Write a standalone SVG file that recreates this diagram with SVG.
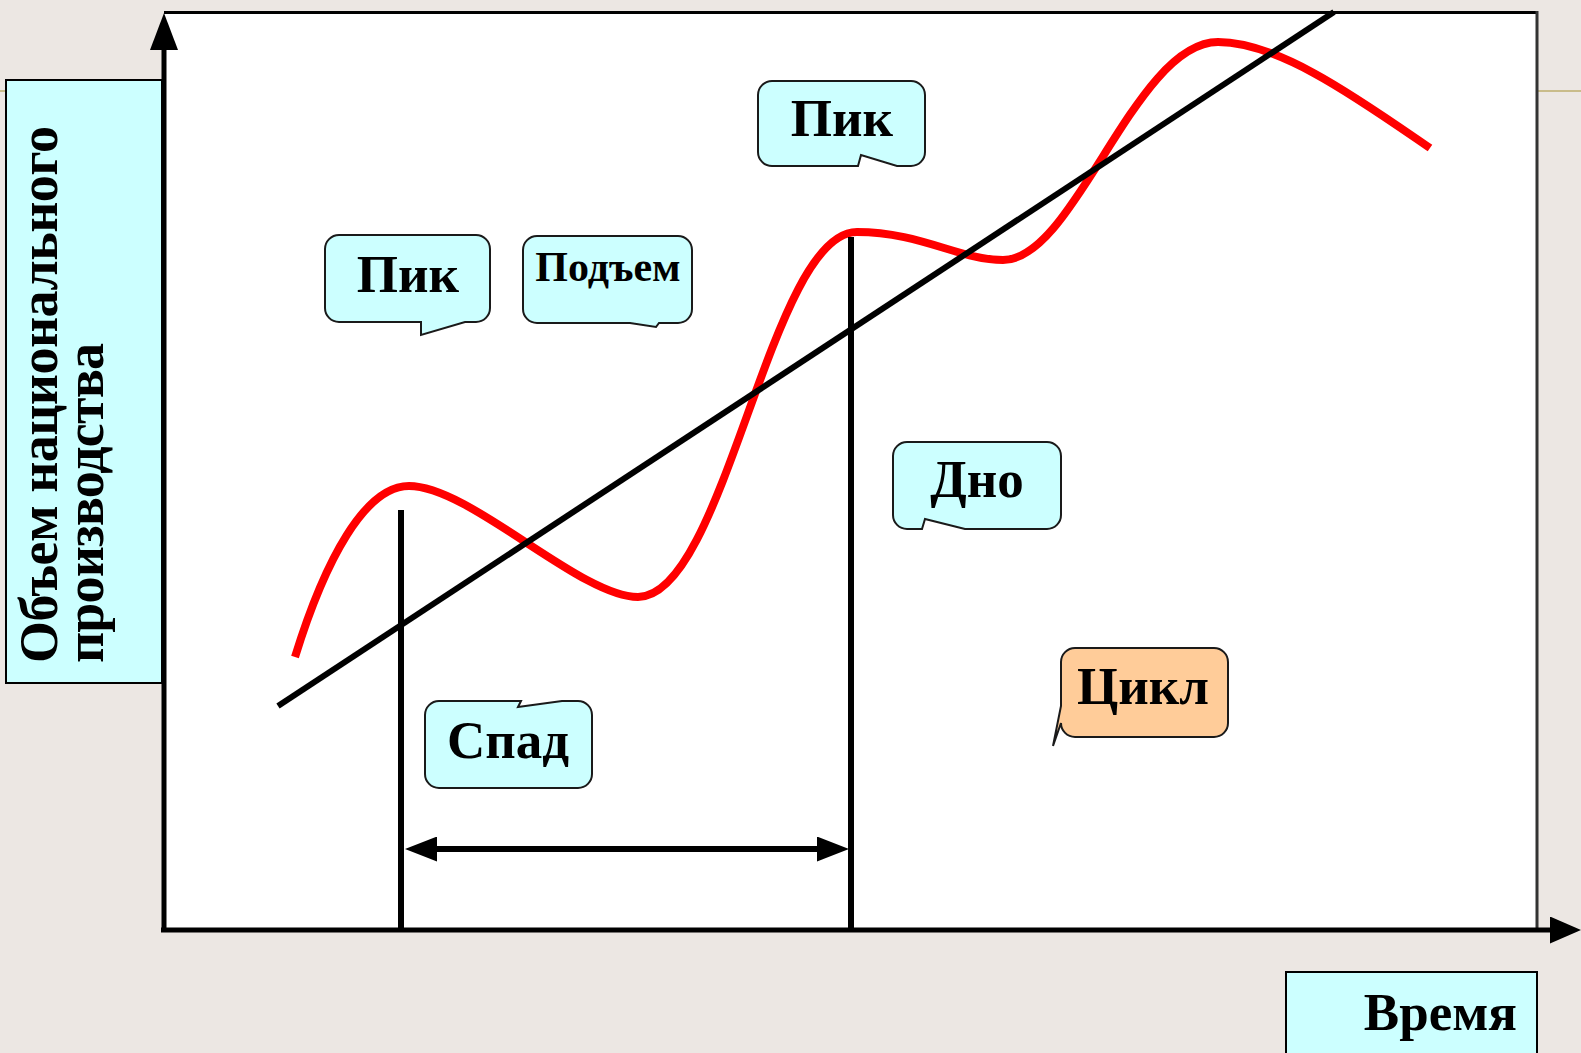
<svg xmlns="http://www.w3.org/2000/svg" width="1581" height="1053" viewBox="0 0 1581 1053">
<style>
.bg{fill:#ECE7E3}
.plot{fill:#ffffff}
.lbl{fill:#CCFFFF;stroke:#000;stroke-width:2}
.call{fill:#CCFFFF;stroke:#1a1a1a;stroke-width:2;stroke-linejoin:miter}
.callp{fill:#FFCC99;stroke:#1a1a1a;stroke-width:2;stroke-linejoin:miter}
.t{font-family:"Liberation Serif","Times New Roman",serif;font-weight:bold;fill:#000}
.ax{stroke:#000;stroke-width:5;fill:none}
.ln{stroke:#000;stroke-width:6;fill:none}
.red{stroke:#FF0000;stroke-width:8;fill:none}
</style>
<defs>
<marker id="arrY" viewBox="0 0 37 28" refX="0" refY="14" markerWidth="37" markerHeight="28" markerUnits="userSpaceOnUse" orient="auto"><path d="M0,0 L37,14 L0,28 Z" fill="#000"/></marker>
<marker id="arrX" viewBox="0 0 31 27" refX="0" refY="13.5" markerWidth="31" markerHeight="27" markerUnits="userSpaceOnUse" orient="auto"><path d="M0,0 L31,13.5 L0,27 Z" fill="#000"/></marker>
<marker id="arrD" viewBox="0 0 32 25" refX="0" refY="12.5" markerWidth="32" markerHeight="25" markerUnits="userSpaceOnUse" orient="auto-start-reverse"><path d="M0,0 L32,12.5 L0,25 Z" fill="#000"/></marker>
</defs>
<rect class="bg" x="0" y="0" width="1581" height="1053"/>
<line x1="0" y1="91" x2="1581" y2="91" stroke="#C9BC8A" stroke-width="2"/>
<g id="plot-area">
<rect class="plot" x="164" y="12" width="1373" height="918"/>
<line x1="164" y1="12.5" x2="1538" y2="12.5" stroke="#000" stroke-width="3"/>
<line x1="1537" y1="11" x2="1537" y2="930" stroke="#333" stroke-width="3"/>
</g>
<g id="y-label">
<rect class="lbl" x="6" y="80" width="156" height="603"/>
<text class="t" font-size="54" transform="translate(57,663) rotate(-90)" textLength="537" lengthAdjust="spacing">Объем национального</text>
<text class="t" font-size="54" transform="translate(103,663) rotate(-90)" textLength="320" lengthAdjust="spacing">производства</text>
</g>
<g id="x-label">
<rect class="lbl" x="1286" y="972" width="251" height="90"/>
<text class="t" font-size="53" x="1517" y="1030" text-anchor="end">Время</text>
</g>
<g id="connectors">
<path class="red" d="M295,657 C325,560 365,486 409,486 C470,486 580,597 638,597 C725,597 770,232 857,232 C920,232 960,260 1003,260 C1075,260 1135,42 1218,42 C1280,42 1360,100 1430,148"/>
<line class="ln" x1="278" y1="706" x2="1334" y2="12"/>
<line class="ln" x1="401" y1="510" x2="401" y2="930"/>
<line class="ln" x1="851" y1="237" x2="851" y2="930"/>
<line class="ln" stroke-width="4.5" x1="437" y1="849" x2="817" y2="849" marker-start="url(#arrD)" marker-end="url(#arrD)"/>
<line class="ax" x1="164" y1="932" x2="164" y2="50" marker-end="url(#arrY)"/>
<line class="ax" stroke-width="6" x1="161" y1="930" x2="1550" y2="930" marker-end="url(#arrX)"/>
</g>
<g id="callout-pik-left">
<path class="call" d="M339,235 H476 A14,14 0 0 1 490,249 V308 A14,14 0 0 1 476,322 H465 L421,335 L421,322 H339 A14,14 0 0 1 325,308 V249 A14,14 0 0 1 339,235 Z"/>
<text class="t" font-size="53" x="408" y="292" text-anchor="middle">Пик</text>
</g>
<g id="callout-podem">
<path class="call" d="M537,236 H678 A14,14 0 0 1 692,250 V309 A14,14 0 0 1 678,323 H659 L656,327 L630,323 H537 A14,14 0 0 1 523,309 V250 A14,14 0 0 1 537,236 Z"/>
<text class="t" font-size="42" x="608" y="281" text-anchor="middle">Подъем</text>
</g>
<g id="callout-pik-top">
<path class="call" d="M772,81 H911 A14,14 0 0 1 925,95 V152 A14,14 0 0 1 911,166 H897 L861,155 L858,166 H772 A14,14 0 0 1 758,152 V95 A14,14 0 0 1 772,81 Z"/>
<text class="t" font-size="53" x="842" y="136" text-anchor="middle">Пик</text>
</g>
<g id="callout-dno">
<path class="call" d="M907,442 H1047 A14,14 0 0 1 1061,456 V515 A14,14 0 0 1 1047,529 H965 L925,519 L922,529 H907 A14,14 0 0 1 893,515 V456 A14,14 0 0 1 907,442 Z"/>
<text class="t" font-size="53" x="977" y="497" text-anchor="middle">Дно</text>
</g>
<g id="callout-tsikl">
<path class="callp" d="M1075,648 H1214 A14,14 0 0 1 1228,662 V723 A14,14 0 0 1 1214,737 H1075 A14,14 0 0 1 1061,723 L1053,746 L1061,706 V662 A14,14 0 0 1 1075,648 Z"/>
<text class="t" font-size="53" x="1143" y="704" text-anchor="middle">Цикл</text>
</g>
<g id="callout-spad">
<path class="call" d="M439,701 H521 L518,707 L562,701 H578 A14,14 0 0 1 592,715 V774 A14,14 0 0 1 578,788 H439 A14,14 0 0 1 425,774 V715 A14,14 0 0 1 439,701 Z"/>
<text class="t" font-size="53" x="508" y="758" text-anchor="middle">Спад</text>
</g>
</svg>
